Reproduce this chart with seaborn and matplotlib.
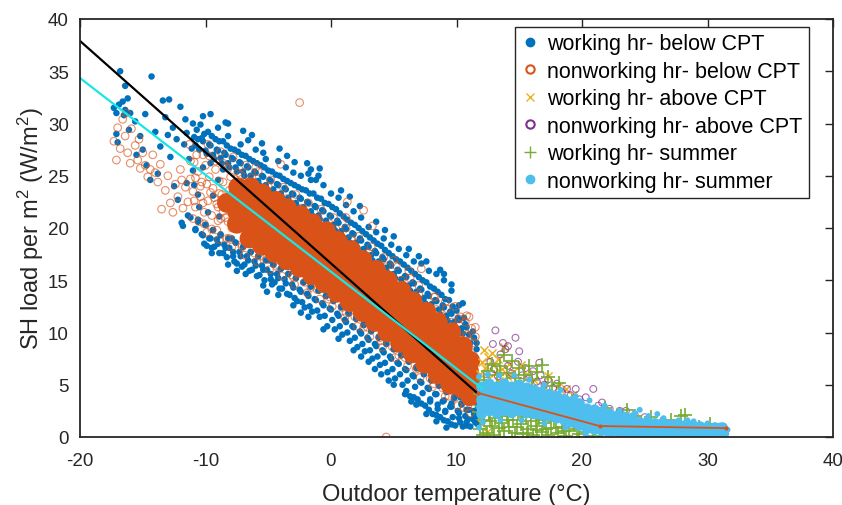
import matplotlib
matplotlib.use('Agg')
import matplotlib.pyplot as plt
import seaborn as sns
import pandas as pd
from matplotlib.lines import Line2D

# ---------------- data ----------------
# working hours, below change-point temperature (blue dots)
wb_pts = [
    (-16.8,35.0),(-16.4,33.6),(-14.3,34.5),(-17.3,31.5),(-17.1,31.0),(-16.9,31.8),(-16.6,32.1),
    (-16.4,31.3),(-16.2,32.4),(-16.0,31.0),(-16.5,30.8),(-17.1,29.0),(-17.0,28.2),(-15.2,28.8),
    (-15.0,27.5),(-14.7,26.0),(-15.6,30.2),(-14.8,30.9),(-13.4,32.2),(-12.9,32.3),(-12.0,31.6),
    (-13.2,30.6),(-12.6,29.6),(-12.3,28.5),(-13.0,28.9),(-13.6,27.8),(-14.0,29.2),(-12.5,24.0),
    (-12.2,22.7),(-11.9,20.5),(-12.8,26.8),(-13.8,25.2),(-14.4,24.6),(-15.5,27.0),(-16.1,29.4),
    (-11.7,28.0),(-11.5,29.1),(-11.6,30.4),(-11.4,21.2),(-11.8,20.2),(-11.5,24.3),
    (-11.1,27.6),(-10.9,28.7),(-11.0,30.0),(-11.2,21.0),(-10.8,19.9),(-11.0,25.5),
    (-10.5,27.5),(-10.3,28.6),(-10.4,29.9),(-10.2,30.7),(-10.6,20.8),(-10.3,19.4),(-10.5,22.0),
    (-9.9,27.1),(-9.7,28.0),(-9.8,29.2),(-9.6,30.9),(-10.0,20.3),(-9.7,19.0),(-9.9,18.3),
    (-9.3,26.6),(-9.1,27.5),(-9.2,28.5),(-9.0,29.6),(-9.4,19.8),(-9.1,18.9),(-9.3,18.2),
    (-8.7,26.2),(-8.5,27.2),(-8.6,28.3),(-8.4,30.1),(-8.8,19.3),(-8.5,18.4),(-8.6,17.6),
    (-8.1,25.8),(-7.9,26.7),(-8.0,27.6),(-8.2,28.8),(-7.9,19.0),(-8.1,18.1),(-7.8,17.3),
    (-7.5,25.4),(-7.3,26.3),(-7.4,27.3),(-7.2,28.0),(-7.6,18.6),(-7.3,17.7),(-7.5,16.6),
    (-6.9,25.0),(-6.7,25.9),(-6.8,26.9),(-6.6,28.4),(-7.0,18.2),(-6.7,17.3),(-6.9,16.5),
    (-6.3,24.5),(-6.1,25.4),(-6.2,26.4),(-6.0,27.5),(-6.4,17.7),(-6.1,16.8),(-6.3,16.0),
    (-5.7,24.1),(-5.5,25.0),(-5.6,26.0),(-5.4,27.2),(-5.8,17.3),(-5.5,16.4),(-5.7,15.5),
    (-5.1,23.7),(-4.9,24.6),(-5.0,25.5),(-5.2,26.6),(-4.9,16.9),(-5.1,16.0),(-4.8,15.1),
    (-4.5,23.3),(-4.3,24.2),(-4.4,25.1),(-4.2,26.4),(-4.6,16.5),(-4.3,15.6),(-4.5,14.8),
    (-3.9,22.9),(-3.7,23.8),(-3.8,24.7),(-3.6,25.8),(-4.0,16.1),(-3.7,15.1),(-3.9,14.2),
    (-3.3,22.4),(-3.1,23.3),(-3.2,24.3),(-3.0,25.3),(-3.4,15.6),(-3.1,14.6),(-3.3,13.6),
    (-2.7,22.0),(-2.5,22.9),(-2.6,23.9),(-2.4,25.0),(-2.8,15.2),(-2.5,14.1),(-2.7,13.0),
    (-2.1,21.6),(-1.9,22.5),(-2.0,23.6),(-1.8,25.2),(-2.2,14.8),(-1.9,13.7),(-2.1,12.4),
    (-1.5,21.2),(-1.3,22.1),(-1.4,23.3),(-1.2,24.6),(-1.6,25.6),(-1.6,14.4),(-1.3,13.2),(-1.5,12.0),
    (-0.9,20.8),(-0.7,21.7),(-0.8,22.8),(-0.6,24.1),(-1.0,14.0),(-0.7,12.8),(-0.9,11.5),
    (-0.3,20.3),(-0.1,21.2),(-0.2,22.3),(0.0,23.3),(-0.4,13.5),(-0.1,12.3),(-0.3,10.6),
    (0.3,19.8),(0.5,20.7),(0.4,21.8),(0.6,22.9),(0.2,13.0),(0.5,11.8),(0.3,10.3),
    (0.9,19.2),(1.1,20.1),(1.0,21.1),(1.2,22.2),(0.8,12.4),(1.1,11.2),(0.9,9.8),
    (1.5,18.6),(1.7,19.5),(1.6,20.5),(1.8,21.6),(1.4,11.8),(1.7,10.6),(1.5,9.2),
    (2.1,18.1),(2.3,19.0),(2.2,20.0),(2.4,21.0),(2.0,11.3),(2.3,10.1),(2.1,8.6),
    (2.7,17.5),(2.9,18.4),(2.8,19.4),(3.0,20.1),(2.6,10.7),(2.9,9.5),(2.7,8.2),
    (3.3,16.9),(3.5,17.8),(3.4,18.8),(3.6,19.6),(3.2,10.1),(3.5,8.9),(3.3,7.5),
    (3.9,16.3),(4.1,17.2),(4.0,18.3),(4.2,19.0),(3.8,9.5),(4.1,8.3),(3.9,6.9),
    (4.5,15.7),(4.7,16.6),(4.6,17.6),(4.8,18.4),(4.4,8.9),(4.7,7.7),(4.5,6.2),
    (5.1,15.2),(5.3,16.0),(5.2,17.0),(5.4,18.0),(5.0,8.4),(5.3,7.1),(5.1,5.6),
    (5.7,14.6),(5.9,15.4),(5.8,16.5),(6.0,17.4),(5.6,7.8),(5.9,6.5),(5.7,5.0),
    (6.3,14.0),(6.5,14.8),(6.4,15.9),(6.6,16.8),(6.2,7.2),(6.5,5.9),(6.3,3.9),
    (6.9,13.4),(7.1,14.2),(7.0,15.3),(7.2,16.6),(6.8,6.6),(7.1,5.3),(6.9,3.6),
    (7.5,12.8),(7.7,13.7),(7.6,14.8),(7.8,15.9),(7.4,6.0),(7.7,4.7),(7.5,3.0),
    (8.1,12.2),(8.3,13.1),(8.2,14.2),(8.4,15.6),(8.0,5.4),(8.3,4.1),(8.1,2.2),
    (8.7,11.7),(8.9,12.6),(8.8,13.6),(9.0,15.0),(8.6,4.9),(8.9,3.4),(8.7,1.9),
    (9.3,11.1),(9.5,12.0),(9.4,13.1),(9.6,14.0),(9.2,4.3),(9.5,2.9),(9.3,1.5),
    (9.9,10.5),(10.1,11.4),(10.0,12.1),(10.2,12.6),(9.8,3.7),(10.1,2.5),(9.9,1.1),
    (10.5,9.9),(10.7,10.8),(10.6,11.4),(10.4,3.1),(10.7,2.0),(10.5,1.0),
    (11.1,9.0),(11.3,10.1),(11.0,2.6),(11.3,1.7),(11.1,1.0),
    (11.6,8.4),(11.7,3.0),(11.6,2.0),(11.7,1.2),
    (9.6,3.2),(10.3,3.8),(10.9,3.3),(11.4,2.5),(10.8,1.4),(11.5,3.8),(10.2,1.8),
    (9.1,2.4),(8.5,2.7),(7.9,3.4),(11.0,4.2),(11.4,4.6),(10.6,4.0),
    # second layer of the blue fringe
    (-10.8,27.9),(-10.6,28.5),(-10.7,29.4),(-10.6,20.6),(-10.8,19.8),
    (-10.0,27.4),(-10.2,28.3),(-10.1,29.0),(-10.0,20.3),(-10.2,19.3),(-10.1,18.5),
    (-9.4,27.0),(-9.6,27.9),(-9.5,28.8),(-9.4,19.8),(-9.6,19.0),(-9.5,18.1),
    (-8.8,26.7),(-9.0,27.4),(-8.9,28.3),(-8.8,19.4),(-9.0,18.5),(-8.9,17.6),
    (-8.2,26.2),(-8.4,27.0),(-8.3,27.9),(-8.2,19.0),(-8.4,18.1),(-8.3,17.2),
    (-7.6,25.8),(-7.8,26.6),(-7.7,27.5),(-7.6,18.6),(-7.8,17.7),(-7.7,16.8),
    (-7.0,25.4),(-7.2,26.2),(-7.1,27.0),(-7.0,18.2),(-7.2,17.3),(-7.1,16.3),
    (-6.4,25.0),(-6.6,25.8),(-6.5,26.6),(-6.4,17.7),(-6.6,16.9),(-6.5,15.9),
    (-5.8,24.5),(-6.0,25.3),(-5.9,26.2),(-5.8,17.3),(-6.0,16.4),(-5.9,15.4),
    (-5.2,24.1),(-5.4,24.9),(-5.3,25.8),(-5.2,16.9),(-5.4,16.0),(-5.3,15.0),
    (-4.6,23.7),(-4.8,24.5),(-4.7,25.4),(-4.6,16.5),(-4.8,15.6),(-4.7,14.6),
    (-4.0,23.3),(-4.2,24.1),(-4.1,25.0),(-4.0,16.1),(-4.2,15.2),(-4.1,14.2),
    (-3.4,22.9),(-3.6,23.7),(-3.5,24.5),(-3.4,15.6),(-3.6,14.7),(-3.5,13.7),
    (-2.8,22.4),(-3.0,23.2),(-2.9,24.1),(-2.8,15.2),(-3.0,14.3),(-2.9,13.3),
    (-2.2,22.0),(-2.4,22.8),(-2.3,23.7),(-2.2,14.8),(-2.4,13.9),(-2.3,12.9),
    (-1.6,21.6),(-1.8,22.4),(-1.7,23.3),(-1.6,24.6),(-1.6,14.4),(-1.8,13.5),(-1.7,12.5),
    (-1.0,21.2),(-1.2,22.0),(-1.1,22.9),(-1.0,25.0),(-1.0,14.0),(-1.2,13.1),(-1.1,12.1),
    (-0.4,20.7),(-0.6,21.6),(-0.5,22.4),(-0.4,13.5),(-0.6,12.6),(-0.5,11.6),
    (0.2,20.3),(0.0,21.1),(0.1,22.0),(0.2,13.1),(0.0,12.2),(0.1,11.2),
    (0.8,19.7),(0.6,20.5),(0.7,21.4),(0.8,12.5),(0.6,11.6),(0.7,10.6),
    (1.4,19.1),(1.2,19.9),(1.3,20.8),(1.4,11.9),(1.2,11.0),(1.3,10.0),
    (2.0,18.6),(1.8,19.4),(1.9,20.3),(2.0,11.4),(1.8,10.5),(1.9,9.5),
    (2.6,18.0),(2.4,18.8),(2.5,19.7),(2.6,10.8),(2.4,9.9),(2.5,8.9),
    (3.2,17.4),(3.0,18.2),(3.1,19.1),(3.2,10.2),(3.0,9.3),(3.1,8.3),
    (3.8,16.8),(3.6,17.6),(3.7,18.5),(3.8,9.6),(3.6,8.7),(3.7,7.7),
    (4.4,16.2),(4.2,17.0),(4.3,17.9),(4.4,9.0),(4.2,8.1),(4.3,7.1),
    (5.0,15.6),(4.8,16.4),(4.9,17.3),(5.0,8.4),(4.8,7.5),(4.9,6.5),
    (5.6,15.1),(5.4,15.9),(5.5,16.8),(5.6,7.9),(5.4,7.0),(5.5,6.0),
    (6.2,14.5),(6.0,15.3),(6.1,16.2),(6.2,7.3),(6.0,6.4),(6.1,5.4),(6.0,4.4),
    (6.8,13.9),(6.6,14.7),(6.7,15.6),(6.8,6.7),(6.6,5.8),(6.7,4.8),(6.6,3.8),
    (7.4,13.3),(7.2,14.1),(7.3,15.0),(7.4,6.1),(7.2,5.2),(7.3,4.2),(7.2,3.2),
    (8.0,12.7),(7.8,13.5),(7.9,14.4),(8.0,5.5),(7.8,4.6),(7.9,3.6),(7.8,2.6),
    (8.6,12.2),(8.4,13.0),(8.5,13.9),(8.6,5.0),(8.4,4.1),(8.5,3.1),(8.4,2.1),
    (9.2,11.6),(9.0,12.4),(9.1,13.2),(9.2,4.4),(9.0,3.5),(9.1,2.5),(9.0,1.6),
    (9.8,11.0),(9.6,11.8),(9.7,12.5),(9.8,3.8),(9.6,2.9),(9.7,1.9),(9.6,1.2),
    (10.4,10.4),(10.2,11.2),(10.4,3.2),(10.2,2.3),(10.3,1.4),
    (11.0,9.8),(10.8,10.5),(11.0,3.6),(10.8,2.6),(10.9,1.7),(10.8,1.1),
    (11.6,9.0),(11.4,9.5),(11.6,3.3),(11.4,2.2),(11.5,1.4),
    # ragged outer edge
    (-7.0,29.3),(-5.5,28.1),(-4.1,27.6),(-2.9,26.3),(-0.9,25.7),(0.8,23.6),(2.3,22.1),(3.6,20.6),
    (5.0,19.2),(6.2,18.0),(7.6,16.8),(8.7,16.0),(9.6,14.6),(10.5,12.8),(-8.2,30.0),(-6.3,28.9),
    (-3.5,26.9),(-1.9,26.2),(1.5,23.0),(4.3,19.8),(7.0,17.3),(9.0,15.6),
    (-9.5,17.6),(-8.2,16.5),(-6.8,15.6),(-5.4,14.5),(-4.2,13.6),(-3.0,12.6),(-1.8,11.5),
    (-0.6,10.3),(0.6,9.4),(1.8,8.3),(3.0,7.2),(4.0,6.0),(5.0,5.0),(5.9,4.1),(6.8,3.1),(7.6,2.2),
    (8.4,1.5),(9.2,0.9),(-7.5,15.9),(-2.4,11.9),(2.4,7.7),(4.6,5.4),(6.4,3.4),(-5.1,13.9),(3.5,6.5),
    # mixed with the open circles at the cold end
    (-10.2,25.8),(-9.6,26.2),(-9.0,24.6),(-8.6,25.6),(-10.6,23.2),(-9.8,21.5),(-11.3,26.6),
    (-10.9,24.1),(-9.4,23.1),(-8.9,21.1),
]

# nonworking hours, below CPT: dense core of overlapping circles
nb_core = [
    (-8.3,22.4),
    (-7.5,20.4),(-7.5,21.6),(-7.6,22.8),(-7.4,23.9),
    (-6.5,19.0),(-6.5,20.3),(-6.6,21.5),(-6.5,22.7),(-6.4,23.9),
    (-5.5,18.3),(-5.5,18.9),(-5.5,20.2),(-5.6,21.5),(-5.5,22.7),(-5.5,23.3),
    (-4.5,17.6),(-4.5,18.9),(-4.6,20.1),(-4.5,21.4),(-4.4,22.6),
    (-3.5,16.9),(-3.5,17.5),(-3.5,18.8),(-3.6,20.1),(-3.5,21.3),(-3.5,21.9),
    (-2.5,16.2),(-2.5,17.5),(-2.6,18.7),(-2.5,20.0),(-2.4,21.2),
    (-1.5,15.45),(-1.5,16.1),(-1.5,17.4),(-1.6,18.6),(-1.5,19.9),(-1.5,20.45),
    (-0.5,14.7),(-0.5,16.0),(-0.6,17.2),(-0.5,18.4),(-0.4,19.7),
    (0.5,13.8),(0.5,14.4),(0.5,15.7),(0.4,16.9),(0.5,18.2),(0.5,18.8),
    (1.5,12.9),(1.5,14.1),(1.4,15.4),(1.5,16.6),(1.6,17.9),
    (2.5,11.95),(2.5,12.5),(2.5,13.8),(2.4,15.0),(2.5,16.3),(2.5,16.95),
    (3.5,11.0),(3.5,12.2),(3.4,13.5),(3.5,14.7),(3.6,16.0),
    (4.5,10.0),(4.5,10.6),(4.5,11.9),(4.4,13.1),(4.5,14.4),(4.5,15.0),
    (5.5,9.0),(5.5,10.2),(5.4,11.5),(5.5,12.7),(5.6,14.0),
    (6.5,8.0),(6.5,8.6),(6.5,9.9),(6.4,11.1),(6.5,12.4),(6.5,13.0),
    (7.5,7.0),(7.5,8.2),(7.4,9.5),(7.5,10.7),(7.6,12.0),
    (8.5,6.0),(8.5,6.6),(8.5,7.9),(8.4,9.1),(8.5,10.4),(8.5,11.0),
    (9.5,5.0),(9.5,6.2),(9.4,7.5),(9.5,8.7),(9.6,10.0),
    (10.5,4.6),(10.5,5.9),(10.4,7.1),(10.5,8.4),(10.5,8.7),
    (11.1,3.9),(11.1,5.1),(11.0,6.3),(11.1,7.3),
]

# nonworking hours, below CPT: scattered open circles
nb_pts = [
    (-17.3,28.3),(-17.0,29.6),(-16.8,27.6),(-16.6,30.4),(-16.4,28.8),(-16.2,27.2),(-16.0,26.2),
    (-15.9,29.5),(-15.6,27.9),(-15.4,26.5),(-15.2,25.7),(-15.0,27.2),(-14.8,26.0),(-14.6,24.9),
    (-14.4,25.6),(-14.2,27.0),(-14.0,25.3),(-13.8,24.4),(-13.6,26.1),(-13.5,21.8),(-13.2,23.6),
    (-13.0,25.0),(-12.8,22.4),(-12.6,21.5),(-12.4,24.2),(-12.2,23.0),(-12.0,25.6),(-11.8,21.9),
    (-11.6,23.9),(-11.4,22.5),(-11.2,26.4),(-11.0,20.9),(-10.8,24.8),(-11.3,28.0),(-10.7,27.0),
    (-16.3,31.0),(-15.3,28.5),(-17.1,26.5),(-10.9,22.6),(-11.9,24.6),
    (-11.0,23.5),(-10.8,22.0),(-10.6,25.4),(-10.4,23.0),(-10.3,24.4),(-10.1,21.5),(-10.0,26.0),
    (-9.8,22.6),(-9.7,24.9),(-9.5,21.2),(-9.4,23.8),(-9.2,25.6),(-9.1,22.3),(-9.0,20.7),
    (-8.9,24.5),(-8.7,23.2),(-8.6,21.6),(-8.4,25.9),(-10.9,26.3),(-10.5,20.6),(-9.9,24.2),
    (-9.3,22.9),(-8.8,20.9),(-10.2,22.4),(-11.2,24.7),(-9.6,23.4),(-9.0,22.0),(-10.4,24.0),
    (-8.6,24.4),(-8.2,20.6),(-8.0,24.9),(-7.9,20.0),(-8.9,23.3),(-8.4,21.0),(-8.1,23.6),
    (-10.2,27.0),(-9.8,28.0),(-10.1,20.4),(-9.9,19.6),
    (-9.2,26.4),(-8.8,27.3),(-9.1,19.8),(-8.9,18.9),
    (-8.2,25.7),(-7.8,26.8),(-8.1,19.0),(-7.9,18.2),
    (-7.2,25.1),(-6.8,26.0),(-7.1,18.4),(-6.9,17.4),
    (-6.2,24.3),(-5.8,25.4),(-6.1,17.6),(-5.9,16.8),
    (-5.2,23.7),(-4.8,24.6),(-5.1,17.0),(-4.9,16.0),
    (-4.2,23.0),(-4.0,26.1),(-3.8,23.9),(-4.1,16.3),(-3.9,15.4),
    (-3.2,22.3),(-2.8,23.2),(-3.1,15.5),(-2.9,14.6),
    (-2.2,21.6),(-1.8,22.4),(-2.1,14.8),(-1.9,13.8),
    (-1.2,20.9),(-0.8,21.8),(-1.1,14.1),(-0.9,13.2),
    (-0.2,20.2),(0.2,21.0),(-0.1,13.4),(0.1,12.5),
    (0.8,19.2),(1.2,20.0),(0.9,12.4),(1.1,11.4),
    (1.8,18.3),(2.2,19.2),(1.9,11.5),(2.1,10.6),
    (2.8,17.3),(3.2,18.2),(2.9,10.5),(3.1,9.6),
    (3.8,16.3),(4.2,17.2),(3.9,9.5),(4.1,8.6),
    (4.8,15.4),(5.2,16.4),(4.9,8.6),(5.1,7.6),
    (5.8,14.4),(6.2,15.9),(6.3,15.2),(5.9,7.6),(6.1,6.8),
    (6.8,13.4),(7.2,16.1),(7.0,14.5),(6.9,6.6),(7.1,5.7),
    (7.8,12.4),(8.2,13.4),(7.9,5.6),(8.1,4.8),
    (8.8,11.6),(9.2,12.3),(8.9,4.7),(9.1,3.9),
    (9.8,10.6),(9.9,12.5),(10.2,11.3),(9.9,3.8),(10.1,3.0),
    (10.8,9.6),(11.0,11.5),(11.2,10.4),(11.4,9.0),(10.9,2.9),(11.1,2.3),
    (-2.5,32.0),(1.3,22.5),(2.6,21.7),(3.3,20.2),(1.2,21.0),(4.4,0.0),(8.3,13.4),(9.1,12.9),
    (10.3,11.5),(10.7,11.0),(11.5,10.5),(10.8,11.6),(11.5,9.6),(5.0,16.9),(-6.0,25.8),
    (-9.7,26.9),(-8.6,26.2),(-7.4,25.3),(-6.3,24.8),(-5.0,24.0),(-3.6,22.8),(-2.4,21.9),
    (-1.0,20.9),(0.4,19.9),(1.6,18.9),(3.0,17.6),(4.4,16.3),(5.6,15.0),(7.0,13.6),(8.4,12.2),
    (9.6,11.0),(10.8,9.8),(-9.5,19.9),(-8.3,19.0),(-7.1,18.2),(-5.7,17.3),(-4.3,16.3),
    (-3.0,15.3),(-1.6,14.3),(-0.2,13.2),(1.2,11.9),(2.6,10.5),(4.0,9.2),(5.4,7.8),(6.8,6.5),
    (8.2,5.1),(9.4,3.9),(10.6,2.8),
]

# working hours, above CPT (yellow crosses)
wa_pts = [
    (11.9,6.0),(12.0,7.2),(12.2,8.3),(12.3,6.6),(12.5,7.7),(12.6,5.6),(12.8,8.0),(12.9,6.9),
    (13.1,6.1),(13.3,7.5),(13.4,5.4),(13.6,6.5),(13.8,8.6),(14.0,5.8),(14.2,7.0),(14.5,6.2),
    (14.8,5.4),(15.1,6.9),(15.6,6.0),(16.2,5.5),(16.9,5.0),(17.3,5.8),(18.2,4.9),(18.7,4.6),
    (19.3,4.0),(12.2,2.6),(12.0,1.2),(12.4,0.5),
]

# nonworking hours, above CPT (purple open circles)
na_pts = [
    (12.4,6.0),(12.7,7.2),(13.0,6.5),(13.1,10.2),(13.3,5.8),(13.5,7.9),(13.9,8.4),(14.1,6.8),
    (14.4,6.1),(14.7,9.5),(14.9,7.2),(15.2,5.9),(15.5,6.6),(15.8,5.6),(16.1,6.3),(16.4,5.3),
    (16.7,5.9),(17.0,5.0),(17.3,5.5),(17.7,4.7),(18.0,5.1),(18.4,4.3),(18.8,4.6),(19.1,4.0),
    (19.5,4.6),(19.8,3.6),(20.3,3.8),(20.9,4.6),(21.3,3.0),(21.6,3.3),(22.2,2.7),(23.0,2.5),
    (23.5,2.5),(24.2,2.1),(25.0,1.9),(13.7,9.0),(15.0,8.2),(16.6,7.1),(12.9,8.9),(14.1,8.7),
]

# working hours, summer (green plus signs)
ws_pts = [
    (11.9,0.8),(12.2,1.6),(12.4,0.4),(12.6,2.2),(12.8,1.1),(13.0,0.2),(13.1,1.8),(13.3,2.6),
    (13.5,0.0),(13.6,1.3),(13.8,0.6),(14.0,2.0),(14.2,1.0),(14.4,0.0),(14.5,1.6),(14.7,0.4),
    (14.9,2.3),(15.1,1.2),(15.3,0.3),(15.5,1.9),(15.7,0.8),(15.9,1.5),(16.1,0.2),(16.3,1.1),
    (16.6,1.8),(16.8,0.5),(17.0,1.3),(17.3,0.2),(17.5,0.9),(17.8,1.5),(18.1,0.4),(18.4,1.0),
    (18.7,0.1),(19.0,0.6),(19.4,1.2),(19.8,0.3),(20.3,0.5),(20.9,0.1),(21.5,0.7),(22.4,0.2),
    (23.2,0.4),(24.0,0.1),(12.0,3.0),(11.8,2.4),(12.3,3.6),(11.9,4.1),
    (12.2,5.5),(12.5,6.3),(12.8,7.0),(13.2,5.9),(13.5,6.8),(13.8,7.8),(14.0,6.1),(14.4,7.3),
    (14.7,5.6),(15.0,6.6),(15.4,5.9),(15.8,6.8),(16.0,5.5),(16.4,6.2),(16.8,6.9),(17.3,5.7),
    (17.6,4.9),(18.2,5.2),
    (21.8,2.8),(22.8,2.0),(24.2,2.0),(25.5,1.9),(26.3,1.2),(27.1,1.6),(27.9,2.0),(28.2,2.1),
    (29.3,1.0),(30.2,1.2),(23.6,2.6),(20.0,2.8),(19.2,3.4),
    (12.1,0.2),(12.7,1.5),(13.4,0.9),(14.1,1.6),(14.8,1.0),(15.6,0.4),(16.4,0.7),(17.1,0.8),
    (17.9,0.9),(18.6,0.6),(19.6,0.8),(13.9,2.6),(15.2,2.1),(16.9,1.6),
]

# nonworking hours, summer: dense core and scattered dots (light blue)
ns_core = [
    (12.0,2.2),(12.0,2.9),(12.0,3.5),(12.0,4.1),(12.0,4.8),
    (12.6,2.5),(12.6,3.1),(12.6,3.7),(12.6,4.4),(12.6,5.1),
    (13.2,2.3),(13.2,2.9),(13.2,3.5),(13.2,4.1),(13.2,4.8),
    (13.8,2.5),(13.8,3.1),(13.8,3.7),(13.8,4.4),(13.8,5.1),
    (14.4,2.3),(14.4,2.9),(14.4,3.5),(14.4,4.1),(14.4,4.8),
    (15.0,2.5),(15.0,3.1),(15.0,3.7),(15.0,4.4),(15.0,5.0),
    (15.6,2.3),(15.6,2.9),(15.6,3.5),(15.6,4.1),(15.6,4.7),
    (16.2,2.2),(16.2,2.8),(16.2,3.3),(16.2,3.9),(16.2,4.5),
    (16.8,2.1),(16.8,2.6),(16.8,3.1),(16.8,3.7),(16.8,4.3),
    (17.4,2.0),(17.4,2.5),(17.4,3.0),(17.4,3.5),(17.4,4.1),
    (18.0,1.8),(18.0,2.3),(18.0,2.8),(18.0,3.3),(18.0,3.9),
    (18.6,1.6),(18.6,2.1),(18.6,2.6),(18.6,3.1),(18.6,3.6),
    (19.2,1.4),(19.2,1.9),(19.2,2.4),(19.2,2.9),(19.2,3.4),
    (19.8,1.1),(19.8,1.6),(19.8,2.2),(19.8,2.8),(19.8,3.2),
    (20.4,0.8),(20.4,1.4),(20.4,2.1),(20.4,2.7),
    (21.0,0.7),(21.0,1.3),(21.0,2.0),(21.0,2.6),
    (21.6,0.6),(21.6,1.2),(21.6,1.8),(21.6,2.4),
    (22.2,0.5),(22.2,1.1),(22.2,1.7),(22.2,2.2),
    (22.8,0.5),(22.8,1.1),(22.8,1.6),(22.8,2.0),
    (23.4,0.4),(23.4,1.0),(23.4,1.5),(23.4,1.9),
    (24.0,0.4),(24.0,0.9),(24.0,1.4),(24.0,1.8),
    (24.6,0.4),(24.6,0.9),(24.6,1.4),
    (25.2,0.4),(25.2,0.9),(25.2,1.4),
    (25.8,0.4),(25.8,0.9),(25.8,1.3),
    (26.4,0.3),(26.4,0.8),(26.4,1.3),
    (27.0,0.3),(27.0,0.8),(27.0,1.2),
    (27.6,0.3),(27.6,0.8),(27.6,1.2),
    (28.2,0.3),(28.2,0.7),(28.2,1.1),
    (28.8,0.3),(28.8,0.7),(28.8,1.1),
    (29.4,0.3),(29.4,0.7),(29.4,1.0),
    (30.0,0.3),(30.0,0.8),
    (30.6,0.4),(30.6,0.9),
    (31.2,0.5),(31.2,0.9),
]
ns_pts = [
    (11.8,5.8),(12.5,6.0),(13.4,5.9),(14.6,5.9),(15.8,5.5),(17.0,5.0),(18.3,4.5),(19.5,3.9),
    (20.6,3.5),(21.8,3.0),(23.0,2.5),(24.2,2.3),(25.3,2.0),(26.5,1.8),(27.7,1.6),(28.9,1.5),
    (30.0,1.3),(31.0,1.1),(31.6,0.7),(31.5,0.3),(29.5,0.1),(27.3,0.1),(25.0,0.1),(22.9,0.2),
    (20.3,0.2),(18.7,0.9),(17.0,1.3),(15.2,1.6),(13.5,1.6),(12.1,1.4),(11.8,0.9),(30.7,0.0),
    (28.4,1.6),(26.0,2.2),(24.6,2.6),
]

# fitted change-point model lines
fit_work_t = [-20.0, 11.75]
fit_work_q = [37.9, 4.1]
fit_non_t = [-20.0, 12.1]
fit_non_q = [34.35, 4.6]
fit_summer_t = [11.75, 21.4, 31.5]
fit_summer_q = [4.2, 1.05, 0.85]

series_labels = ["working hr- below CPT", "nonworking hr- below CPT",
                 "working hr- above CPT", "nonworking hr- above CPT",
                 "working hr- summer", "nonworking hr- summer"]

C_BLUE = "#0072BD"
C_ORANGE = "#D95319"
C_YELLOW = "#EDB120"
C_PURPLE = "#7E2F8E"
C_GREEN = "#77AC30"
C_LBLUE = "#4DBEEE"
INK = "#262626"

# ---------------- figure ----------------
sns.set_theme(style="white")
plt.rcParams['font.family'] = ['Liberation Sans', 'DejaVu Sans']
plt.rcParams['mathtext.fontset'] = 'custom'
plt.rcParams['mathtext.rm'] = 'Liberation Sans'
plt.rcParams['mathtext.it'] = 'Liberation Sans:italic'
plt.rcParams['axes.unicode_minus'] = False

fig = plt.figure(figsize=(8.42, 5.06), dpi=100)
ax = fig.add_axes([80/842, 1 - 438/506, 753/842, 418/506])


def df(p):
    return pd.DataFrame(p, columns=["t", "q"])


def filled(p, color, s, alpha=1.0):
    sns.scatterplot(data=df(p), x="t", y="q", color=color, s=s, linewidth=0,
                    edgecolor="none", alpha=alpha, ax=ax, legend=False)


def hollow(p, color, s, lw, alpha=1.0):
    sns.scatterplot(data=df(p), x="t", y="q", marker="o", s=s, ax=ax, legend=False)
    coll = ax.collections[-1]
    coll.set_facecolor("none")
    coll.set_edgecolor(color)
    coll.set_linewidth(lw)
    coll.set_alpha(alpha)


def lineart(p, color, marker, s, lw):
    sns.scatterplot(data=df(p), x="t", y="q", marker=marker, s=s, color=color,
                    linewidth=lw, ax=ax, legend=False)


filled(wb_pts, C_BLUE, 22)
filled(nb_core, C_ORANGE, 200)
hollow(nb_pts, C_ORANGE, 30, 0.8, alpha=0.65)
lineart(wa_pts, C_YELLOW, "x", 34, 1.1)
hollow(na_pts, C_PURPLE, 24, 0.8, alpha=0.7)
lineart(ws_pts, C_GREEN, "+", 100, 1.2)
filled(ns_core, C_LBLUE, 60)
filled(ns_pts, C_LBLUE, 18)

sns.lineplot(x=fit_work_t, y=fit_work_q, color="black", linewidth=1.6, sort=False,
             estimator=None, ax=ax)
sns.lineplot(x=fit_non_t, y=fit_non_q, color="#19E6E6", linewidth=1.6, sort=False,
             estimator=None, ax=ax)
sns.lineplot(x=fit_summer_t, y=fit_summer_q, color=C_ORANGE, linewidth=1.3, sort=False,
             estimator=None, marker="o", markersize=3, markeredgewidth=0, ax=ax)

ax.set_xlim(-20, 40)
ax.set_ylim(0, 40)
ax.set_xticks([-20, -10, 0, 10, 20, 30, 40])
ax.set_yticks([0, 5, 10, 15, 20, 25, 30, 35, 40])
ax.tick_params(direction="in", top=True, right=True, length=6, width=1.0,
               labelsize=13.5, colors=INK, labelcolor=INK)
ax.tick_params(axis="x", pad=11)
ax.tick_params(axis="y", pad=8)
for sp in ax.spines.values():
    sp.set_visible(True)
    sp.set_color(INK)
    sp.set_linewidth(1.3)
ax.grid(False)

ax.set_xlabel("Outdoor temperature (°C)", fontsize=17, color=INK, labelpad=10)
ax.set_ylabel("SH load per m$^{2}$ (W/m$^{2}$)", fontsize=17, color=INK, labelpad=1)

handles = [
    Line2D([], [], linestyle="none", marker="o", markersize=6, markerfacecolor=C_BLUE,
           markeredgecolor=C_BLUE),
    Line2D([], [], linestyle="none", marker="o", markersize=6, markerfacecolor="none",
           markeredgecolor=C_ORANGE, markeredgewidth=1.5),
    Line2D([], [], linestyle="none", marker="x", markersize=6, color=C_YELLOW,
           markeredgewidth=1.0),
    Line2D([], [], linestyle="none", marker="o", markersize=6, markerfacecolor="none",
           markeredgecolor=C_PURPLE, markeredgewidth=1.5),
    Line2D([], [], linestyle="none", marker="+", markersize=8, color=C_GREEN,
           markeredgewidth=1.0),
    Line2D([], [], linestyle="none", marker="o", markersize=6, markerfacecolor=C_LBLUE,
           markeredgecolor=C_LBLUE),
]
leg = ax.legend(handles, series_labels, loc="upper right", bbox_to_anchor=(0.968, 0.981),
                borderaxespad=0, fontsize=15.5, frameon=True, fancybox=False,
                framealpha=1, edgecolor=INK, borderpad=0.3, labelspacing=0.3,
                handlelength=0.8, handletextpad=0.4)
leg.get_frame().set_linewidth(1.0)
for t in leg.get_texts():
    t.set_color("black")

fig.savefig("out.png", dpi=100)
